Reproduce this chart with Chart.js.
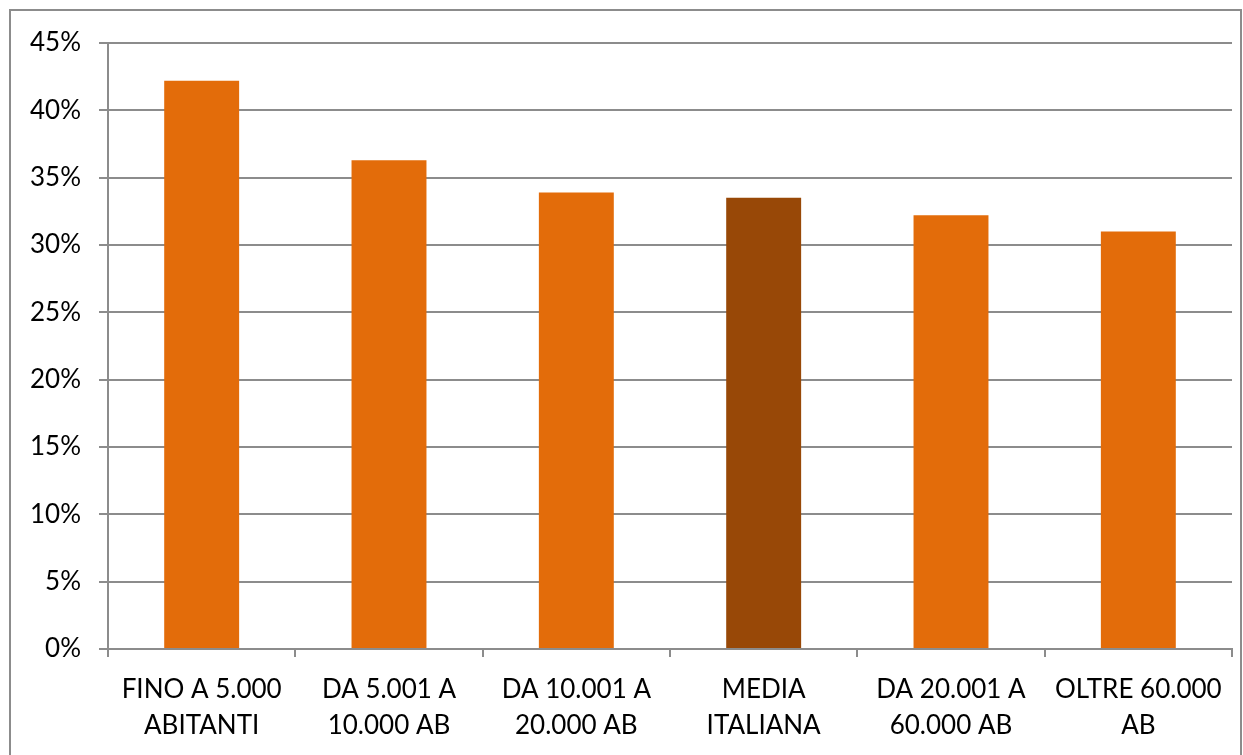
<!DOCTYPE html>
<html>
<head>
<meta charset="utf-8">
<script src="https://cdn.jsdelivr.net/npm/chart.js@4/dist/chart.umd.min.js"></script>
<style>
  html, body { margin: 0; padding: 0; background: #fff; overflow: hidden; }
  #wrap { position: relative; width: 1243px; height: 755px; }
  #frame {
    position: absolute; left: 9px; top: 9px; width: 1229px; height: 760px;
    border: 2px solid #8c8c8c; pointer-events: none;
  }
</style>
</head>
<body>
<div id="wrap">
  <canvas id="chart" width="1243" height="755"></canvas>
  <div id="frame"></div>
</div>
<script>
// categorie (etichette su due righe)
const categories = [
  ['FINO A 5.000', 'ABITANTI'],
  ['DA 5.001 A', '10.000 AB'],
  ['DA 10.001 A', '20.000 AB'],
  ['MEDIA', 'ITALIANA'],
  ['DA 20.001 A', '60.000 AB'],
  ['OLTRE 60.000', 'AB']
];
// valori in percentuale
const values = [42.2, 36.3, 33.9, 33.5, 32.2, 31.0];
const barColors = ['#e36c0a', '#e36c0a', '#e36c0a', '#984807', '#e36c0a', '#e36c0a'];

const gridColor = '#8c8c8c';
const font = { family: 'Lato, "Open Sans", sans-serif', size: 26 };

new Chart(document.getElementById('chart'), {
  type: 'bar',
  data: {
    labels: categories,
    datasets: [{
      data: values,
      backgroundColor: barColors,
      borderWidth: 0,
      barPercentage: 0.4,
      categoryPercentage: 1
    }]
  },
  options: {
    responsive: false,
    animation: false,
    layout: { padding: { left: 0, top: 43, right: 11, bottom: 0 } },
    plugins: { legend: { display: false }, tooltip: { enabled: false } },
    scales: {
      x: {
        grid: {
          offset: true,
          drawOnChartArea: false,
          drawTicks: true,
          tickLength: 8,
          color: gridColor,
          lineWidth: 2
        },
        border: { color: gridColor, width: 2 },
        ticks: {
          color: '#000',
          font: { ...font, lineHeight: 1.38 },
          padding: 15,
          maxRotation: 0,
          autoSkip: false
        },
        afterFit: (s) => { s.height = 106; }
      },
      y: {
        min: 0,
        max: 45,
        grid: {
          color: gridColor,
          lineWidth: 2,
          tickLength: 9
        },
        border: { color: gridColor, width: 2 },
        ticks: {
          stepSize: 5,
          color: '#000',
          font: font,
          padding: 18,
          callback: (v) => v + '%'
        },
        afterFit: (s) => { s.width = 108; }
      }
    }
  }
});
</script>
</body>
</html>
